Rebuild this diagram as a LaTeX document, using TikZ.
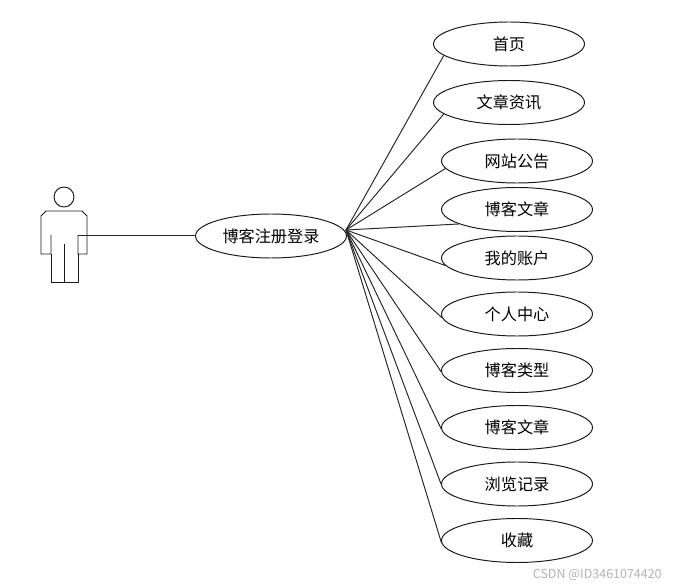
\documentclass[tikz,border=0pt]{standalone}
\usepackage{fontspec}
\setmainfont{Noto Sans CJK SC}
\usetikzlibrary{shapes.geometric}

\begin{document}
\begin{tikzpicture}[x=0.02cm, y=-0.02cm, every node/.style={font=\fontsize{9.2}{11}\selectfont},
	usecase/.style={draw, ellipse, minimum width=3.02cm, minimum height=0.88cm, inner sep=0pt, line width=0.55pt, black!90},
	link/.style={line width=0.55pt, black!85},
	person/.style={line width=0.55pt, black!90}]
	\useasboundingbox (0,0) rectangle (681,588);
	% actor
	\draw[person] (64,197) circle (10);
	\draw[person] (51,235) -- (51,254) -- (41,254) -- (41,216) -- (46,211) -- (82,211) -- (87,216) -- (87,254) -- (78,254) -- (78,235);
	\draw[person] (51,254) -- (51,282) -- (78,282) -- (78,254);
	\draw[person] (64,244) -- (64,282);
	\coordinate (actor) at (78,235);
	% use cases
	\node[usecase] (login) at (271,236) {\textcolor{black}{博客注册登录}};
	\node[usecase] (home) at (509,44) {\textcolor{black}{首页}};
	\node[usecase] (news) at (509,102.5) {\textcolor{black}{文章资讯}};
	\node[usecase] (notice) at (517,161) {\textcolor{black}{网站公告}};
	\node[usecase] (blog) at (517,209.5) {\textcolor{black}{博客文章}};
	\node[usecase] (account) at (517,258) {\textcolor{black}{我的账户}};
	\node[usecase] (center) at (517,314) {\textcolor{black}{个人中心}};
	\node[usecase] (type) at (517,370.5) {\textcolor{black}{博客类型}};
	\node[usecase] (article) at (517,427.5) {\textcolor{black}{博客文章}};
	\node[usecase] (history) at (517,484) {\textcolor{black}{浏览记录}};
	\node[usecase] (fav) at (517,540.5) {\textcolor{black}{收藏}};
	\coordinate (hub) at (346,230);
	% connectors
	\draw[link] (actor) -- (actor -| login.west);
	\draw[link] (hub) -- (home.190);
	\draw[link] (hub) -- (news.190);
	\draw[link] (hub) -- (notice.186);
	\draw[link] (hub) -- (blog.194);
	\draw[link] (hub) -- (account.186);
	\draw[link] (hub) -- (center.183);
	\draw[link] (hub) -- (type.181);
	\draw[link] (hub) -- (article.181);
	\draw[link] (hub) -- (history.180);
	\draw[link] (hub) -- (fav.182);
	\node[text=black!30, font=\fontsize{7.1}{9}\selectfont, anchor=east, inner sep=0pt] (mark) at (662,574.5) {CSDN @ID3461074420};
\end{tikzpicture}
\end{document}
